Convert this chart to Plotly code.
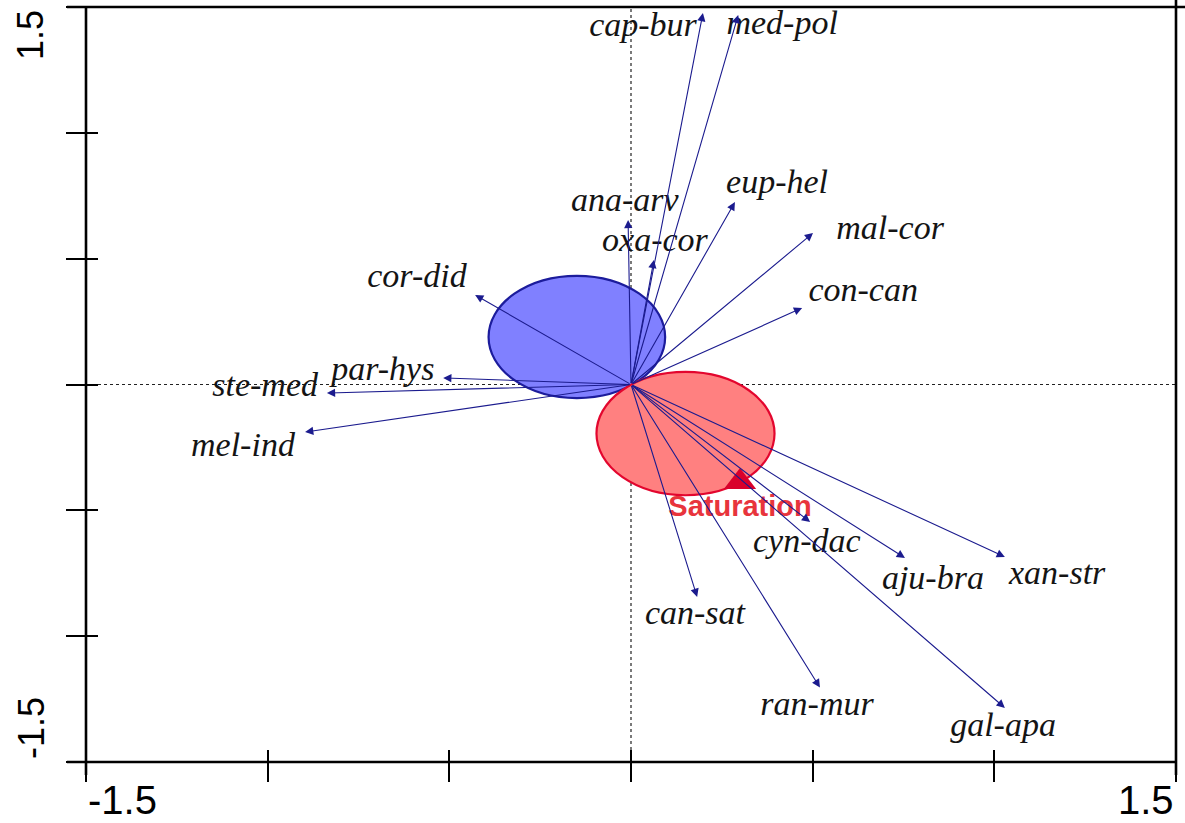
import plotly.graph_objects as go

# Species scores (biplot arrow tips) on the first two ordination axes
species = ["cap-bur", "med-pol", "ana-arv", "oxa-cor", "eup-hel", "mal-cor",
           "con-can", "cor-did", "par-hys", "ste-med", "mel-ind", "can-sat",
           "ran-mur", "cyn-dac", "aju-bra", "xan-str", "gal-apa"]
axis1 = [0.198, 0.295, -0.008, 0.063, 0.286, 0.501,
         0.471, -0.429, -0.517, -0.837, -0.897, 0.182,
         0.520, 0.493, 0.754, 1.029, 1.029]
axis2 = [1.476, 1.468, 0.654, 0.495, 0.725, 0.602,
         0.304, 0.356, 0.026, -0.034, -0.189, -0.844,
         -1.204, -0.546, -0.689, -0.685, -1.285]

# Where each species name is written
label_x = [0.033, 0.416, -0.017, 0.066, 0.402, 0.713,
           0.639, -0.589, -0.683, -1.007, -1.068, 0.176,
           0.512, 0.484, 0.831, 1.173, 1.024]
label_y = [1.420, 1.428, 0.725, 0.566, 0.796, 0.613,
           0.364, 0.423, 0.050, -0.010, -0.252, -0.916,
           -1.281, -0.630, -0.777, -0.757, -1.361]

# Group centroids drawn as circles
group_cx = [-0.149, 0.150]
group_cy = [0.189, -0.195]
group_r = [0.243, 0.245]
group_fill = ["#8080ff", "#ff8080"]
group_line = ["#1c1c9c", "#e3062e"]

# Environmental variable (nominal) centroid
env_name = "Saturation"
env_x = [0.300]
env_y = [-0.387]

ticks = [-1.5, -1.0, -0.5, 0.0, 0.5, 1.0, 1.5]
RNG = [-1.5, 1.5]
NAVY = "#1b1b8e"

fig = go.Figure()

# label text for species
fig.add_trace(go.Scatter(
    x=label_x, y=label_y, text=species, mode="text",
    textposition="middle center",
    textfont=dict(family="Liberation Serif", size=34, style="italic", color="#141414"),
    hoverinfo="skip", showlegend=False))

# environmental centroid marker + name
fig.add_trace(go.Scatter(
    x=env_x, y=env_y, mode="markers",
    marker=dict(symbol="triangle-up", size=28, color="#d9002b", line=dict(width=0)),
    hoverinfo="skip", showlegend=False))
fig.add_trace(go.Scatter(
    x=env_x, y=[env_y[0] - 0.108], text=[env_name], mode="text",
    textposition="middle center",
    textfont=dict(family="Liberation Sans", size=29, weight="bold", color="#e8343c"),
    hoverinfo="skip", showlegend=False))

# empty trace so the overlay axes (inner tick halves) are rendered
fig.add_trace(go.Scatter(x=[None], y=[None], xaxis="x2", yaxis="y2",
                         mode="markers", hoverinfo="skip", showlegend=False))

shapes = []
# dotted zero lines, underneath the circles
shapes.append(dict(type="line", xref="x", yref="paper", x0=0, x1=0, y0=0, y1=1,
                   line=dict(color="#222", width=1.2, dash="dot"), layer="below"))
shapes.append(dict(type="line", xref="paper", yref="y", x0=0, x1=1, y0=0, y1=0,
                   line=dict(color="#222", width=1.2, dash="dot"), layer="below"))
for cx, cy, r, fc, lc in zip(group_cx, group_cy, group_r, group_fill, group_line):
    shapes.append(dict(type="circle", xref="x", yref="y",
                       x0=cx - r, x1=cx + r, y0=cy - r, y1=cy + r,
                       fillcolor=fc, line=dict(color=lc, width=2.2), layer="below"))

# frame lines that overshoot the plotting region slightly
W, H = 1090.0, 755.0
ox, oy = 19 / W, 13 / H
for x0, y0, x1, y1 in [(0, -oy, 0, 1), (-ox, 0, 1, 0),
                       (-ox, 1, 1 + 9 / W, 1), (1, -oy, 1, 1 + 7 / H)]:
    shapes.append(dict(type="line", xref="paper", yref="paper",
                       x0=x0, y0=y0, x1=x1, y1=y1,
                       line=dict(color="black", width=2.6), layer="above"))

annotations = []
# species arrows from the origin
for sx, sy in zip(axis1, axis2):
    annotations.append(dict(x=sx, y=sy, ax=0, ay=0, xref="x", yref="y",
                            axref="x", ayref="y", text="", showarrow=True,
                            arrowhead=2, arrowsize=1.5, arrowwidth=1.1,
                            arrowcolor=NAVY, standoff=0, startstandoff=0))

# axis end labels
lab_font = dict(family="Liberation Sans", size=40, color="black")
annotations += [
    dict(text="-1.5", xref="paper", yref="paper", x=0, y=-38 / H,
         xanchor="left", yanchor="middle", showarrow=False, font=lab_font),
    dict(text="1.5", xref="paper", yref="paper", x=1, y=-38 / H,
         xanchor="right", yanchor="middle", showarrow=False, font=lab_font),
    dict(text="1.5", xref="paper", yref="paper", x=-55 / W, y=1 - 28 / H,
         xanchor="center", yanchor="middle", textangle=-90, showarrow=False,
         font=dict(family="Liberation Sans", size=36, color="black")),
    dict(text="-1.5", xref="paper", yref="paper", x=-55 / W, y=34 / H,
         xanchor="center", yanchor="middle", textangle=-90, showarrow=False,
         font=dict(family="Liberation Sans", size=36, color="black")),
]

axis_common = dict(range=RNG, showgrid=False, zeroline=False, showline=False,
                   tickvals=ticks, showticklabels=False, tickcolor="black",
                   tickwidth=2, fixedrange=True)

fig.update_layout(
    width=1185, height=823,
    margin=dict(l=86, r=9, t=7, b=61),
    paper_bgcolor="white", plot_bgcolor="white",
    xaxis=dict(**axis_common, ticks="outside", ticklen=19),
    yaxis=dict(**axis_common, ticks="outside", ticklen=19),
    xaxis2=dict(**axis_common, ticks="inside", ticklen=12,
                overlaying="x", anchor="y2", side="bottom"),
    yaxis2=dict(**axis_common, ticks="inside", ticklen=12,
                overlaying="y", anchor="x2", side="left"),
    shapes=shapes, annotations=annotations,
    showlegend=False,
)

fig.write_html("out.html")
